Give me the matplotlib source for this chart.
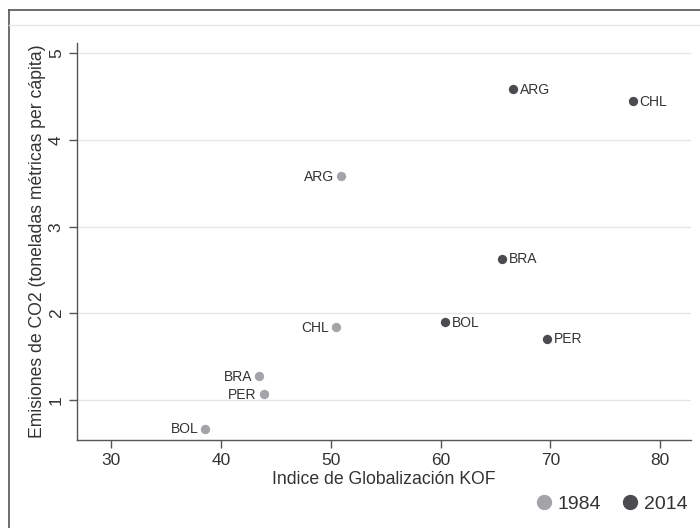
import matplotlib
matplotlib.use("Agg")
import matplotlib.pyplot as plt
from matplotlib.lines import Line2D

plt.rcParams['font.family'] = ['Liberation Sans', 'DejaVu Sans']

countries_1984 = ["ARG", "CHL", "BRA", "PER", "BOL"]
kof_1984 = [50.9, 50.5, 43.5, 43.9, 38.6]
co2_1984 = [3.58, 1.84, 1.28, 1.07, 0.67]

countries_2014 = ["ARG", "CHL", "BRA", "BOL", "PER"]
kof_2014 = [66.6, 77.5, 65.6, 60.4, 69.7]
co2_2014 = [4.59, 4.45, 2.63, 1.90, 1.71]

x_ticks = [30, 40, 50, 60, 70, 80]
y_ticks = [1, 2, 3, 4, 5]
years = ["1984", "2014"]

c_light = "#a3a3a8"
c_dark = "#4b4b50"
axis_col = "#555555"

fig = plt.figure(figsize=(7, 5.28), dpi=100)
ax = fig.add_axes([0.11, 0.1667, 0.877, 0.752])

ax.scatter(kof_1984, co2_1984, s=45, color=c_light, zorder=3, linewidths=0)
ax.scatter(kof_2014, co2_2014, s=45, color=c_dark, zorder=3, linewidths=0)

for name, x, y in zip(countries_1984, kof_1984, co2_1984):
    ax.annotate(name, (x, y), xytext=(-5, -0.5), textcoords="offset points",
                ha="right", va="center", fontsize=10, color="#333333")
for name, x, y in zip(countries_2014, kof_2014, co2_2014):
    ax.annotate(name, (x, y), xytext=(5, -0.5), textcoords="offset points",
                ha="left", va="center", fontsize=10, color="#333333")

ax.set_xlim(26.9, 82.8)
ax.set_ylim(0.54, 5.12)
ax.set_xticks(x_ticks)
ax.set_yticks(y_ticks)
ax.set_xticklabels([str(v) for v in x_ticks])
ax.set_yticklabels([str(v) for v in y_ticks], rotation=90, va="center")
ax.tick_params(axis="both", labelsize=12.5, colors=axis_col, labelcolor="#333333",
               length=6, width=1)
ax.yaxis.grid(True, color="#e6e6e6", linewidth=1)
ax.set_axisbelow(True)
for s in ["top", "right"]:
    ax.spines[s].set_visible(False)
for s in ["left", "bottom"]:
    ax.spines[s].set_color(axis_col)
    ax.spines[s].set_linewidth(1)

ax.set_xlabel("Indice de Globalización KOF", fontsize=12.7, color="#333333", labelpad=2)
ax.set_ylabel("Emisiones de CO2 (toneladas métricas per cápita)", fontsize=12.7,
              color="#333333", labelpad=2)

handles = [Line2D([], [], marker="o", linestyle="", markersize=10, color=c_light),
           Line2D([], [], marker="o", linestyle="", markersize=10, color=c_dark)]
fig.legend(handles, years, loc="center right", bbox_to_anchor=(1.007, 0.045),
           ncol=2, frameon=False, fontsize=14, handlelength=1.0, handletextpad=0.2,
           columnspacing=1.0, labelcolor="#333333")

# outer frame lines
fig.add_artist(Line2D([8.5 / 700, 8.5 / 700], [0, 1 - 10 / 528], transform=fig.transFigure,
                      color="#555555", linewidth=1.2))
fig.add_artist(Line2D([8.5 / 700, 1], [1 - 10 / 528, 1 - 10 / 528], transform=fig.transFigure,
                      color="#555555", linewidth=1.2))
fig.add_artist(Line2D([9 / 700, 1], [1 - 25 / 528, 1 - 25 / 528], transform=fig.transFigure,
                      color="#e8e8e8", linewidth=1))

fig.savefig("out.png", dpi=100)
